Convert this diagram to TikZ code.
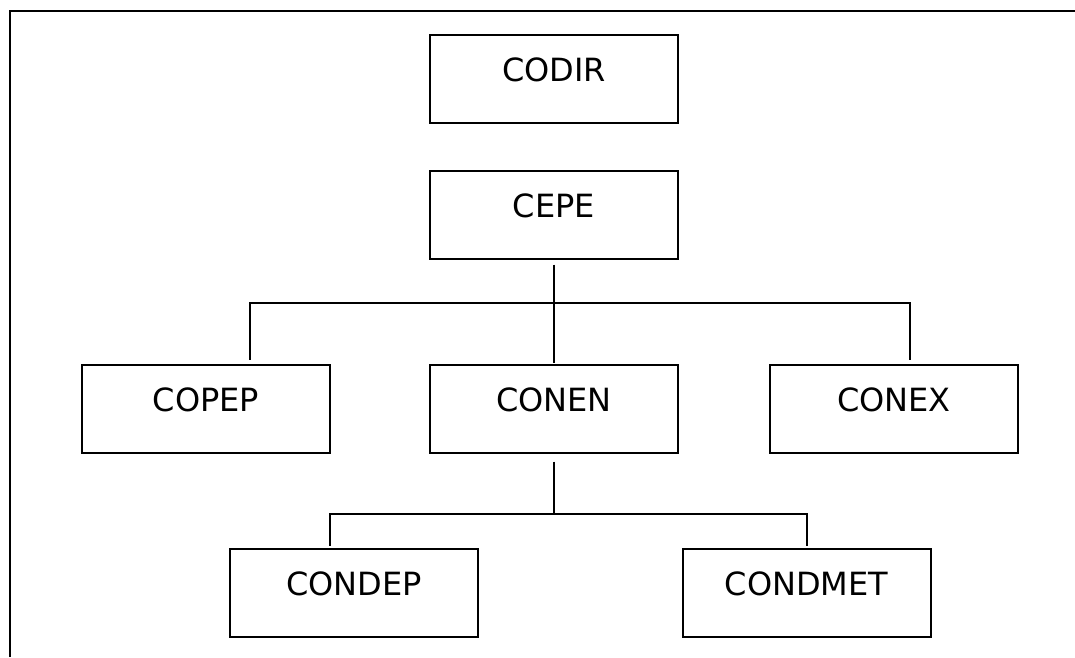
\documentclass[tikz,border=0pt]{standalone}
\usepackage{fontspec}
\setmainfont{DejaVu Sans}
\begin{document}
\begin{tikzpicture}[x=1pt, y=-1pt,
  unit/.style={draw, line width=2pt, rectangle, inner sep=0pt,
    minimum width=248pt, minimum height=88pt,
    text height=23pt, text depth=18pt,
    font=\fontsize{32}{32}\selectfont},
  wire/.style={line width=1.8pt},
  frame/.style={line width=2.4pt}]
  \useasboundingbox (0,0) rectangle (1075,657);

  % outer frame: top and left edges only
  \draw[frame] (10,657) -- (10,11) -- (1075,11);

  % organisation units
  \node[unit] (codir)   at (554, 79)    {CODIR};
  \node[unit] (cepe)    at (554, 214.5) {CEPE};
  \node[unit] (copep)   at (206, 408.5) {COPEP};
  \node[unit] (conen)   at (554, 408.5) {CONEN};
  \node[unit] (conex)   at (894, 408.5) {CONEX};
  \node[unit] (condep)  at (354, 592.5) {CONDEP};
  \node[unit] (condmet) at (806.5, 592.5) {CONDMET};

  % bus bars
  \coordinate (b1l) at (250, 303);
  \coordinate (b1r) at (910, 303);
  \coordinate (b2l) at (330, 514);
  \coordinate (b2r) at (807, 514);

  % first level: CEPE to its three committees
  \draw[wire, shorten <=5pt, shorten >=1pt] (cepe.south) -- (conen.north);
  \draw[wire, shorten <=4pt, shorten >=4pt]
    (copep.north -| b1l) |- (b1r) -- (conex.north -| b1r);

  % second level: CONEN to its two sub-committees
  \draw[wire, shorten <=8pt] (conen.south) -- (conen.south |- b2l);
  \draw[wire, shorten <=2pt, shorten >=2pt]
    (condep.north -| b2l) |- (b2r) -- (condmet.north -| b2r);
\end{tikzpicture}
\end{document}
